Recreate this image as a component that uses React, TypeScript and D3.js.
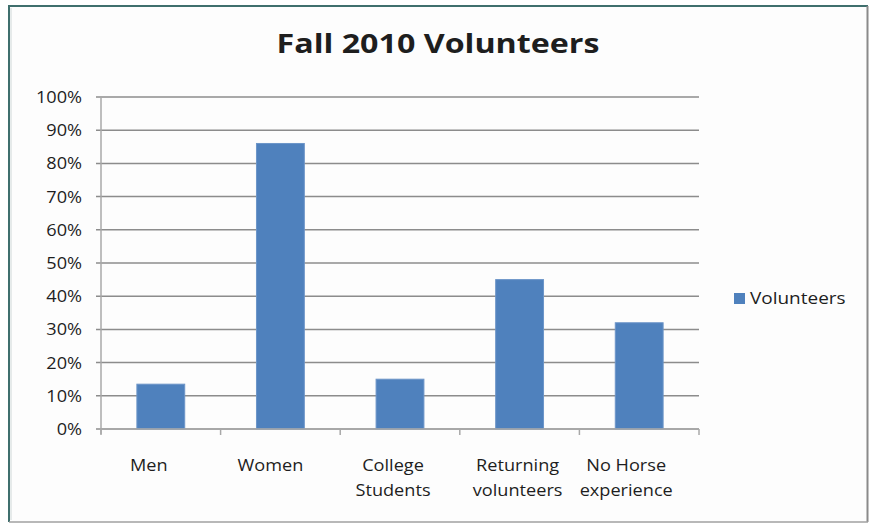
import React from "react";
import * as d3 from "d3";

const categories: string[][] = [
  ["Men"],
  ["Women"],
  ["College", "Students"],
  ["Returning", "volunteers"],
  ["No Horse", "experience"],
];
const values: number[] = [0.135, 0.86, 0.15, 0.45, 0.32];
const yTicks: number[] = [0, 0.1, 0.2, 0.3, 0.4, 0.5, 0.6, 0.7, 0.8, 0.9, 1.0];
const seriesName = "Volunteers";
const title = "Fall 2010 Volunteers";

// layout: horizontal nudge of each category label (Excel-style wrap placement)
const LABEL_SHIFT = [-12, -10, -7, -2, -13];

const W = 872;
const H = 525;
const plot = { left: 101, right: 699, top: 97, bottom: 429 };
const FONT = "'Open Sans', sans-serif";
const BAR = "#4f81bd";
const SX = 1.1;

function SText(props: {
  x: number;
  y: number;
  sx: number;
  anchor?: string;
  size: number;
  weight?: number;
  children: React.ReactNode;
}) {
  return (
    <text
      transform={`translate(${props.x},${props.y}) scale(${props.sx},1)`}
      textAnchor={props.anchor || "start"}
      fontFamily={FONT}
      fontSize={props.size}
      fontWeight={props.weight || 400}
      fill="#1e1e1e"
    >
      {props.children}
    </text>
  );
}

export default function App() {
  const x = d3
    .scaleBand<number>()
    .domain(d3.range(values.length))
    .range([plot.left, plot.right])
    .paddingInner(0.6)
    .paddingOuter(0.3);
  const band = d3.scaleBand<number>().domain(d3.range(values.length)).range([plot.left, plot.right]);
  const y = d3.scaleLinear().domain([0, 1]).range([plot.bottom, plot.top]);
  const fmt = d3.format(".0%");

  return (
    <svg width={W} height={H} style={{ position: "absolute", left: 0, top: 0 }}>
      <rect x={0} y={0} width={W} height={H} fill="#ffffff" />
      <rect x={9} y={6} width={859} height={516} fill="#fdfdfd" />
      {/* frame */}
      <line x1={9} y1={5} x2={9} y2={522} stroke="#3f6f6d" strokeWidth={2} />
      <line x1={8} y1={6} x2={868} y2={6} stroke="#3f6f6d" strokeWidth={2} />
      <line x1={11} y1={8} x2={11} y2={520} stroke="#cfd8d8" strokeWidth={1} />
      <line x1={867.5} y1={6} x2={867.5} y2={522} stroke="#8a8a8a" strokeWidth={2} />
      <line x1={9} y1={522} x2={868} y2={522} stroke="#a0a0a0" strokeWidth={1.5} />

      <SText x={438} y={53} sx={1.24} anchor="middle" size={26} weight={700}>
        {title}
      </SText>

      {/* gridlines and y labels */}
      {yTicks.map((t) => (
        <g key={t}>
          <line
            x1={plot.left - 5}
            x2={plot.right}
            y1={y(t)}
            y2={y(t)}
            stroke="#8c8c8c"
            strokeWidth={1.5}
          />
          <SText x={82} y={y(t) + 6} sx={SX} anchor="end" size={16.5}>
            {fmt(t)}
          </SText>
        </g>
      ))}
      {/* y axis */}
      <line x1={plot.left} x2={plot.left} y1={plot.top} y2={plot.bottom + 5} stroke="#a8a8a8" strokeWidth={1.5} />
      {/* category ticks */}
      {d3.range(values.length + 1).map((i) => {
        const xx = i < values.length ? band(i)! : plot.right;
        return (
          <line key={i} x1={xx} x2={xx} y1={plot.bottom} y2={plot.bottom + 6} stroke="#a8a8a8" strokeWidth={1.5} />
        );
      })}

      {/* bars */}
      {values.map((v, i) => (
        <rect
          key={i}
          x={x(i)}
          y={y(v)}
          width={x.bandwidth()}
          height={y(0) - y(v)}
          fill={BAR}
          stroke="#6d95c8"
          strokeWidth={1}
        />
      ))}
      <line x1={plot.left} x2={plot.right} y1={plot.bottom} y2={plot.bottom} stroke="#a8a8a8" strokeWidth={1.5} />

      {/* category labels */}
      {categories.map((lines, i) => (
        <g key={i}>
          {lines.map((l, j) => (
            <SText
              key={j}
              x={band(i)! + band.bandwidth() / 2 + LABEL_SHIFT[i]}
              y={471 + j * 25}
              sx={SX}
              anchor="middle"
              size={16.5}
            >
              {l}
            </SText>
          ))}
        </g>
      ))}

      {/* legend */}
      <rect x={734} y={293} width={11} height={11} fill={BAR} />
      <SText x={750} y={304} sx={1.15} size={16.5}>
        {seriesName}
      </SText>
    </svg>
  );
}
